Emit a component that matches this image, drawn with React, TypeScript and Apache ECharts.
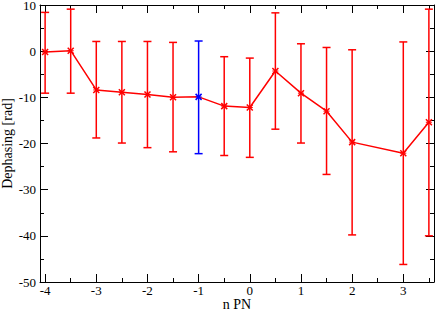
import React, { useEffect, useRef } from "react";
import * as echarts from "echarts";

const xValues = [-4, -3.5, -3, -2.5, -2, -1.5, -1, -0.5, 0, 0.5, 1, 1.5, 2, 3, 3.5];
const yValues = [-0.2, 0.1, -8.4, -8.9, -9.4, -10.0, -9.9, -11.9, -12.2, -4.3, -9.1, -13.0, -19.7, -22.1, -15.4];
const upperValues = [8.4, 9.1, 2.1, 2.1, 2.1, 1.9, 2.2, -1.2, -1.5, 8.3, 1.6, 0.8, 0.3, 2.0, 9.1];
const lowerValues = [-9.1, -9.1, -18.8, -19.9, -20.9, -21.8, -22.2, -22.6, -23.0, -16.9, -19.9, -26.7, -39.8, -46.2, -40.0];
const xMajorTicks = [-4, -3, -2, -1, 0, 1, 2, 3];
const xMinorTicks = [-3.5, -2.5, -1.5, -0.5, 0.5, 1.5, 2.5, 3.5];
const highlightIndex = 6;

const FONT = "Liberation Serif";

export default function App() {
  const ref = useRef<HTMLDivElement>(null);
  useEffect(() => {
    if (!ref.current) return;
    const chart = echarts.init(ref.current, null, { renderer: "svg" });
    const lineData = xValues.map((x, i) => [x, yValues[i]]);
    const errData = xValues.map((x, i) => [x, yValues[i], upperValues[i], lowerValues[i], i === highlightIndex ? 1 : 0]);
    const xBase = {
      type: "value",
      min: -4.1,
      max: 3.6,
      splitLine: { show: false },
    };
    const axisLineStyle = { color: "#000", width: 1 };
    chart.setOption({
      animation: false,
      backgroundColor: "#fff",
      grid: { left: 40, right: 2, top: 5, bottom: 28, containLabel: false, outerBoundsMode: "none" },
      xAxis: [
        {
          ...xBase,
          position: "bottom",
          name: "n PN",
          nameLocation: "middle",
          nameGap: 16,
          nameMoveOverlap: false,
          nameTextStyle: { fontFamily: FONT, fontSize: 14, lineHeight: 12, color: "#000" },
          axisLine: { show: true, onZero: false, lineStyle: axisLineStyle },
          axisTick: { show: true, inside: true, length: 8, customValues: xMajorTicks, lineStyle: axisLineStyle },
          axisLabel: { show: true, customValues: xMajorTicks, margin: 2, fontFamily: FONT, fontSize: 13, color: "#000" },
        },
        {
          ...xBase,
          position: "bottom",
          axisLine: { show: false, onZero: false },
          axisTick: { show: true, inside: true, length: 4, customValues: xMinorTicks, lineStyle: axisLineStyle },
          axisLabel: { show: false },
        },
        {
          ...xBase,
          position: "top",
          axisLine: { show: true, onZero: false, lineStyle: axisLineStyle },
          axisTick: { show: true, inside: true, length: 8, customValues: xMajorTicks, lineStyle: axisLineStyle },
          axisLabel: { show: false },
        },
        {
          ...xBase,
          position: "top",
          axisLine: { show: false, onZero: false },
          axisTick: { show: true, inside: true, length: 4, customValues: xMinorTicks, lineStyle: axisLineStyle },
          axisLabel: { show: false },
        },
      ],
      yAxis: [
        {
          type: "value",
          position: "left",
          min: -50,
          max: 10,
          interval: 10,
          name: "Dephasing [rad]",
          nameLocation: "middle",
          nameGap: 26,
          nameMoveOverlap: false,
          nameTextStyle: { fontFamily: FONT, fontSize: 14, color: "#000" },
          splitLine: { show: false },
          axisLine: { show: true, onZero: false, lineStyle: axisLineStyle },
          axisTick: { show: true, inside: true, length: 8, lineStyle: axisLineStyle },
          minorTick: { show: true, splitNumber: 2, length: 4, lineStyle: axisLineStyle },
          axisLabel: { show: true, margin: 4, fontFamily: FONT, fontSize: 13, lineHeight: 10, color: "#000" },
        },
        {
          type: "value",
          position: "right",
          min: -50,
          max: 10,
          interval: 10,
          splitLine: { show: false },
          axisLine: { show: true, onZero: false, lineStyle: axisLineStyle },
          axisTick: { show: true, inside: true, length: 8, lineStyle: axisLineStyle },
          minorTick: { show: true, splitNumber: 2, length: 4, lineStyle: axisLineStyle },
          axisLabel: { show: false },
        },
      ],
      series: [
        {
          type: "line",
          xAxisIndex: 0,
          yAxisIndex: 0,
          data: lineData,
          symbol: "none",
          lineStyle: { color: "#ff0000", width: 1.5 },
          z: 2,
        },
        {
          type: "custom",
          xAxisIndex: 0,
          yAxisIndex: 0,
          data: errData,
          z: 3,
          clip: false,
          renderItem: (params: any, api: any) => {
            const x = api.value(0);
            const c = api.coord([x, api.value(1)]);
            const hi = api.coord([x, api.value(2)]);
            const lo = api.coord([x, api.value(3)]);
            const color = api.value(4) === 1 ? "#0000ff" : "#ff0000";
            const style = { stroke: color, lineWidth: 1.5, fill: "none" };
            const cap = 4;
            const m = 3;
            return {
              type: "group",
              children: [
                { type: "line", shape: { x1: hi[0], y1: hi[1], x2: lo[0], y2: lo[1] }, style },
                { type: "line", shape: { x1: hi[0] - cap, y1: hi[1], x2: hi[0] + cap, y2: hi[1] }, style },
                { type: "line", shape: { x1: lo[0] - cap, y1: lo[1], x2: lo[0] + cap, y2: lo[1] }, style },
                { type: "line", shape: { x1: c[0] - m, y1: c[1] - m, x2: c[0] + m, y2: c[1] + m }, style },
                { type: "line", shape: { x1: c[0] - m, y1: c[1] + m, x2: c[0] + m, y2: c[1] - m }, style },
                { type: "line", shape: { x1: c[0] - m, y1: c[1], x2: c[0] + m, y2: c[1] }, style: { ...style, lineWidth: 1 } },
              ],
            };
          },
        },
      ],
    });
    return () => chart.dispose();
  }, []);
  return (
    <div
      ref={ref}
      style={{ position: "fixed", left: 0, top: 0, width: 436, height: 310, background: "#fff" }}
    />
  );
}
